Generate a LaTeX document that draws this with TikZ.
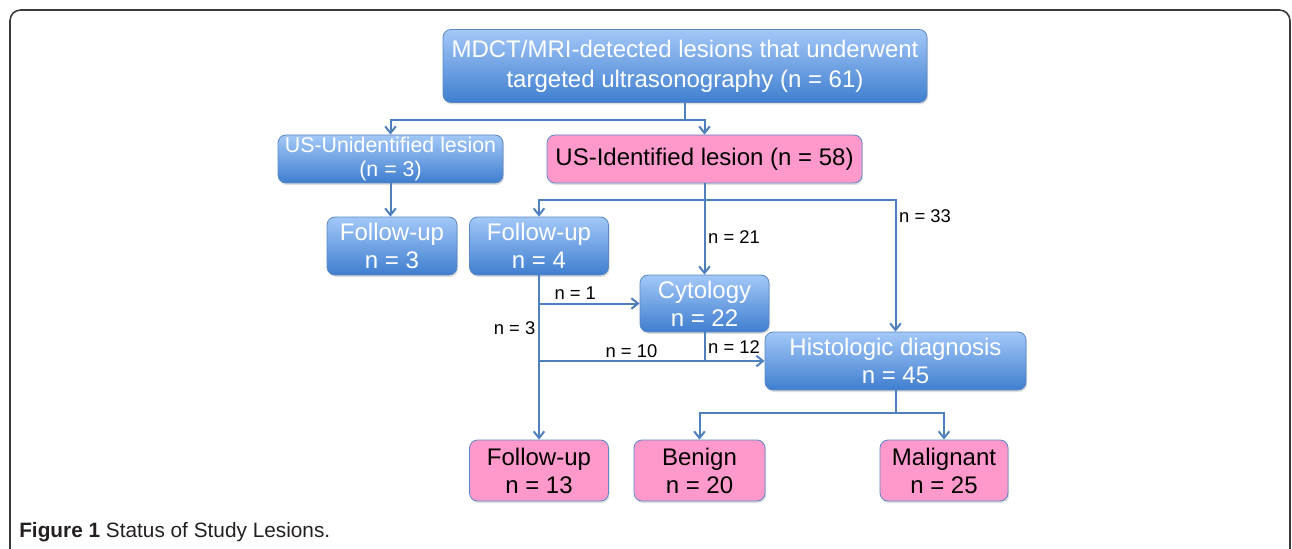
\documentclass[tikz,border=0pt]{standalone}
\usepackage{fontspec}
\setmainfont{Liberation Sans}
\usetikzlibrary{arrows.meta,shadows}
\definecolor{boxline}{HTML}{5A88C4}
\definecolor{bluetop}{HTML}{A3C8F8}
\definecolor{bluebot}{HTML}{3F7ECF}
\definecolor{pinkfill}{HTML}{FF99CC}
\definecolor{arrowcol}{HTML}{4F80BE}
\definecolor{frameline}{HTML}{3A3A3A}
\definecolor{captext}{HTML}{231F20}
\begin{document}
\begin{tikzpicture}[x=0.75pt,y=-0.75pt,
  box/.style={draw=boxline, line width=0.6pt, rounded corners=6pt, align=center, inner sep=0pt,
    drop shadow={shadow xshift=0.8pt, shadow yshift=-1.5pt, opacity=0.25}},
  bluebox/.style={box, top color=bluetop, bottom color=bluebot, text=white},
  pinkbox/.style={box, fill=pinkfill, text=black},
  big/.style={font=\fontsize{18}{21}\selectfont},
  conn/.style={draw=arrowcol, line width=1.5pt},
  arr/.style={conn, -{Straight Barb[length=5pt,width=8pt]}},
  lbl/.style={font=\fontsize{13.8}{16}\selectfont, text=black, inner sep=2pt}]
\useasboundingbox (0,0) rectangle (1292,549);

% outer frame
\draw[frameline, line width=1.2pt, rounded corners=8pt] (10,549) -- (10,10) -- (1290,10) -- (1290,549);

% boxes
\node[bluebox, font=\fontsize{18}{22.5}\selectfont, minimum width=363pt, minimum height=54.75pt] (top) at (685,66)
  {MDCT/MRI-detected lesions that underwent\\targeted ultrasonography (n = 61)};
\node[bluebox, font=\fontsize{16}{18}\selectfont, minimum width=168.75pt, minimum height=36pt] (usun) at (390.5,159)
  {US-Unidentified lesion\\(n = 3)};
\node[pinkbox, big, minimum width=236.25pt, minimum height=36pt] (usid) at (704.5,159)
  {US-Identified lesion (n = 58)};
\node[bluebox, big, minimum width=97.5pt, minimum height=43.5pt] (fu3) at (392,246) {Follow-up\\n = 3};
\node[bluebox, big, minimum width=104.25pt, minimum height=43.5pt] (fu4) at (539,246) {Follow-up\\n = 4};
\node[bluebox, big, minimum width=96.75pt, minimum height=42.75pt] (cyto) at (704.5,303.5) {Cytology\\n = 22};
\node[bluebox, big, minimum width=195.75pt, minimum height=43.5pt] (histo) at (895.5,361) {Histologic diagnosis\\n = 45};
\node[pinkbox, big, minimum width=104.25pt, minimum height=45.75pt] (fu13) at (539,470.5) {Follow-up\\n = 13};
\node[pinkbox, big, minimum width=98.25pt, minimum height=45.75pt] (benign) at (699.5,470.5) {Benign\\n = 20};
\node[pinkbox, big, minimum width=96pt, minimum height=45.75pt] (malig) at (944,470.5) {Malignant\\n = 25};

% top split
\draw[conn] (top.south) -- ++(0,17) coordinate (j1);
\draw[arr] (j1) -| (usun.north);
\draw[arr] (j1) -| (usid.north);
\draw[arr] (usun.south) -- (usun.south |- fu3.north);

% identified lesions
\draw[conn] (usid.south) -- ++(0,17) coordinate (j2);
\draw[arr] (j2) -| (fu4.north);
\draw[arr] (j2) -- (cyto.north) node[lbl, pos=0.5, right] {n = 21};
\draw[arr] (j2) -| (histo.north) node[lbl, pos=0.56, right] {n = 33};

% follow-up n = 4
\draw[arr] (fu4.south) -- (fu13.north) node[lbl, pos=0.32, left] {n = 3};
\draw[arr] (fu4.south |- cyto.west) -- (cyto.west) node[lbl, pos=0.36, above] {n = 1};
\draw[arr] (fu4.south |- histo.west) -- (histo.west) node[lbl, pos=0.41, above] {n = 10};
\draw[conn] (cyto.south) -- (cyto.south |- histo.west) node[lbl, midway, right] {n = 12};

% histology
\draw[conn] (histo.south) -- ++(0,23) coordinate (j3);
\draw[arr] (j3) -| (benign.north);
\draw[arr] (j3) -| (malig.north);

% caption
\node[anchor=base west, inner sep=0pt, text=captext, font=\fontsize{15.6}{18}\selectfont] (cap) at (19,537)
  {\textbf{Figure 1} Status of Study Lesions.};
\end{tikzpicture}
\end{document}
